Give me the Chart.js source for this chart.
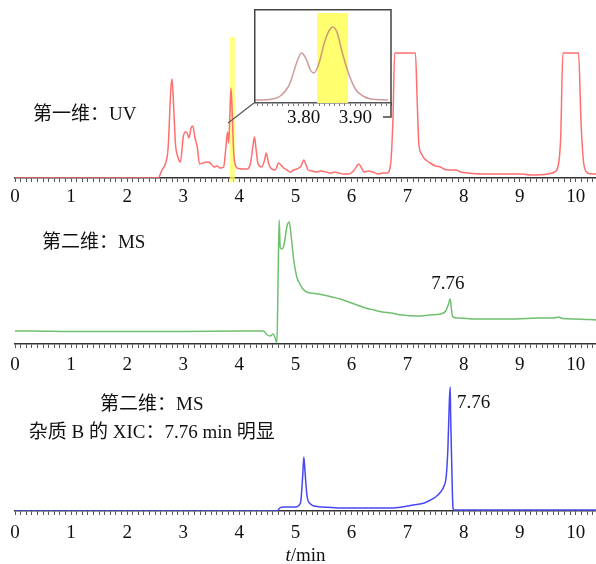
<!DOCTYPE html>
<html>
<head>
<meta charset="utf-8">
<script src="https://cdn.jsdelivr.net/npm/chart.js@4.4.1/dist/chart.umd.min.js"></script>
<style>
  body { margin: 0; background: #fff; }
  #fig { position: relative; width: 596px; height: 564px; overflow: hidden; }
  #fig canvas { position: absolute; left: 0; }
</style>
</head>
<body>
<div id="fig">
  <canvas id="uv" width="596" height="208" style="top:0"></canvas>
  <canvas id="ms" width="596" height="164" style="top:210px"></canvas>
  <canvas id="xic" width="596" height="187" style="top:377px"></canvas>
  <canvas id="zoom" width="138" height="122" style="left:254px;top:9px"></canvas>
</div>
<script>
// first dimension, UV trace (min, signal)
const uvTime = [0, 2.55, 2.62, 2.68, 2.73, 2.78, 2.80, 2.83, 2.86, 2.91, 2.95, 3.00, 3.04, 3.07, 3.10, 3.14, 3.17, 3.21, 3.25, 3.29,
  3.35, 3.42, 3.48, 3.55, 3.60, 3.66, 3.72, 3.76, 3.79, 3.81, 3.83, 3.85, 3.87, 3.90, 3.93, 3.96, 4.05, 4.14, 4.20, 4.25,
  4.27, 4.30, 4.33, 4.40, 4.45, 4.48, 4.52, 4.56, 4.64, 4.70, 4.74, 4.79, 4.85, 4.91, 4.97, 5.03, 5.10, 5.15, 5.19, 5.23,
  5.30, 5.38, 5.45, 5.55, 5.63, 5.70, 5.77, 5.85, 5.95, 6.05, 6.13, 6.18, 6.22, 6.30, 6.38, 6.48, 6.56, 6.64, 6.70, 6.74,
  6.77, 7.14, 7.17, 7.20, 7.25, 7.29, 7.35, 7.40, 7.50, 7.59, 7.65, 7.71, 7.80, 7.86, 7.95, 8.07, 8.30, 8.48, 8.70, 9.02,
  9.20, 9.50, 9.62, 9.68, 9.73, 9.77, 10.05, 10.09, 10.14, 10.21, 10.30, 10.36];
const uvSignal = [0, 0, 8, 14, 30, 90, 99, 70, 35, 20, 16, 41, 46, 45, 40, 50, 52, 40, 31, 14,
  15, 16, 15, 11, 12, 10, 11, 30, 46, 35, 60, 90, 70, 25, 13, 10, 9, 9, 15, 35,
  41, 28, 15, 11, 18, 25, 15, 10, 8, 15, 13, 10, 8, 6, 8, 9, 12, 18, 13, 8,
  7, 6, 7, 6, 5, 6, 5, 4, 4, 8, 14, 10, 6, 7, 6, 4, 5, 5, 15, 60,
  125, 125, 80, 35, 24, 20, 17, 15, 12, 11, 9, 8, 8, 8, 6, 5, 4, 4, 4, 4,
  3, 4, 6, 11, 40, 125, 125, 60, 15, 5, 4, 4];

// enlarged view of the 3.7-3.96 min region
const zoomTime = [3.696, 3.72, 3.74, 3.755, 3.77, 3.776, 3.785, 3.796, 3.805, 3.813, 3.82, 3.83, 3.84, 3.85, 3.857,
  3.865, 3.875, 3.886, 3.90, 3.915, 3.93, 3.963];
const zoomSignal = [3, 3, 4, 7, 16, 23, 38, 50, 44, 33, 30, 40, 60, 73, 76, 70, 50, 31, 14, 7, 4, 3];

// second dimension, MS total ion trace
const msTime = [0, 0.3, 1, 2, 3, 4, 4.43, 4.50, 4.55, 4.60, 4.64, 4.67, 4.69, 4.71, 4.73, 4.76, 4.80, 4.85, 4.89, 4.93,
  4.97, 5.03, 5.08, 5.12, 5.20, 5.27, 5.40, 5.50, 5.65, 5.80, 5.95, 6.10, 6.25, 6.40, 6.55, 6.70, 6.90, 7.18, 7.40, 7.59,
  7.68, 7.73, 7.76, 7.78, 7.80, 7.87, 7.92, 8.20, 8.48, 8.80, 9.10, 9.37, 9.60, 9.70, 9.76, 10.0, 10.36];
const msSignal = [13, 13, 12.5, 12.5, 12.5, 13, 13, 9, 8, 10, 6, 1, 60, 124, 96, 95, 100, 118, 122, 105,
  84, 66, 60, 56, 52, 51, 50, 49, 47, 45, 42, 39, 36, 34, 32, 31, 29, 28, 29, 30,
  33, 40, 45, 36, 28, 26, 26, 25, 25, 25, 25.5, 26, 26, 27, 25.5, 25, 24];

// extracted ion chromatogram of impurity B
const xicTime = [0, 4.68, 4.72, 4.80, 4.90, 5.00, 5.09, 5.13, 5.15, 5.17, 5.21, 5.27, 5.33, 5.50, 5.80, 6.20, 6.70, 6.90,
  7.10, 7.30, 7.41, 7.50, 7.59, 7.65, 7.69, 7.72, 7.745, 7.76, 7.77, 7.79, 7.81, 7.83, 10.36];
const xicSignal = [0, 0, 3, 4, 4, 4, 8, 35, 54, 40, 14, 7, 5, 4, 3, 3, 3, 4,
  6, 8, 11, 14, 19, 25, 35, 64, 110, 124, 90, 40, 3, 1, 1];

const serif = "'Liberation Serif', 'Times New Roman', 'Noto Sans CJK SC', serif";
const textFont = "19px " + serif;

function points(xs, ys) {
  return xs.map((x, i) => ({ x: x, y: ys[i] }));
}

function isWhole(v) {
  return Math.abs(v - Math.round(v)) < 1e-6;
}

// notes plugin: yellow marker bands, connector lines and free text
const notes = {
  id: 'notes',
  beforeDatasetsDraw(chart, args, opts) {
    const { ctx, scales: { x, y } } = chart;
    (opts.bands || []).forEach(b => {
      ctx.save();
      ctx.fillStyle = b.color;
      const l = x.getPixelForValue(b.from), r = x.getPixelForValue(b.to);
      const t = y.getPixelForValue(b.top), btm = y.getPixelForValue(b.bottom);
      ctx.fillRect(l, t, r - l, btm - t);
      ctx.restore();
    });
  },
  afterDatasetsDraw(chart, args, opts) {
    const { ctx, scales: { x, y } } = chart;
    (opts.links || []).forEach(k => {
      ctx.save();
      ctx.strokeStyle = '#555';
      ctx.lineWidth = 1.2;
      ctx.beginPath();
      ctx.moveTo(x.getPixelForValue(k.from[0]), y.getPixelForValue(k.from[1]));
      ctx.lineTo(x.getPixelForValue(k.to[0]), y.getPixelForValue(k.to[1]));
      ctx.stroke();
      ctx.restore();
    });
    (opts.texts || []).forEach(n => {
      ctx.save();
      ctx.font = textFont;
      ctx.fillStyle = '#111';
      ctx.textAlign = n.align || 'left';
      ctx.textBaseline = 'middle';
      ctx.fillText(n.text, x.getPixelForValue(n.at[0]), y.getPixelForValue(n.at[1]));
      ctx.restore();
    });
  }
};

function timeAxis(min, max, step, height, tickLen, pad) {
  return {
    type: 'linear',
    min: min,
    max: max,
    // fixed axis band height; no extra right padding so the axis runs to the edge
    afterFit: s => { s.height = height; s.paddingRight = 0; },
    border: { display: true, color: '#333', width: 1.5 },
    grid: { drawOnChartArea: false, drawTicks: true, tickLength: tickLen, color: '#555', tickWidth: 1 },
    ticks: {
      stepSize: step,
      autoSkip: false,
      maxRotation: 0,
      includeBounds: false,
      padding: pad,
      color: '#111',
      font: { family: serif, size: 19 },
      callback: v => isWhole(v) ? String(Math.round(v)) : ''
    }
  };
}

function trace(id, xs, ys, color, yMax, notesOpts, padLeft, extra) {
  return new Chart(document.getElementById(id), {
    type: 'line',
    data: {
      datasets: [{
        data: points(xs, ys),
        borderColor: color,
        borderWidth: 1.5,
        pointRadius: 0,
        cubicInterpolationMode: 'monotone',
        fill: false
      }]
    },
    options: {
      responsive: false,
      animation: false,
      events: [],
      layout: { padding: { left: padLeft, right: 0, top: 0, bottom: 0 } },
      scales: {
        x: extra.x,
        y: { display: false, min: 0, max: yMax }
      },
      plugins: { legend: { display: false }, tooltip: { enabled: false }, notes: notesOpts }
    },
    plugins: [notes].concat(extra.plugins || [])
  });
}

trace('uv', uvTime, uvSignal, '#ff6f6f', 178, {
  bands: [{ from: 3.83, to: 3.92, top: 141, bottom: -4, color: 'rgba(255,255,90,0.75)' }],
  links: [{ from: [3.80, 55], to: [4.26, 75] }],
  texts: [{ text: '第一维：UV', at: [0.32, 63] }]
}, 15, { x: timeAxis(0, 10.36, 0.1, 30, 4, 4) });

trace('ms', msTime, msSignal, '#6fbf6f', 134, {
  texts: [
    { text: '第二维：MS', at: [0.48, 101] },
    { text: '7.76', at: [7.72, 60], align: 'center' }
  ]
}, 15, { x: timeAxis(0, 10.36, 0.1, 30, 4, 6) });

// axis title with an italic variable name
const axisTitle = {
  id: 'axisTitle',
  afterDraw(chart) {
    const { ctx, chartArea } = chart;
    const cx = (chartArea.left + chartArea.right) / 2;
    const cy = chart.height - 8;
    ctx.save();
    ctx.fillStyle = '#111';
    ctx.textBaseline = 'middle';
    ctx.font = 'italic ' + textFont;
    const wT = ctx.measureText('t').width;
    ctx.font = textFont;
    const wRest = ctx.measureText('/min').width;
    const x0 = cx - (wT + wRest) / 2;
    ctx.font = 'italic ' + textFont;
    ctx.fillText('t', x0, cy);
    ctx.font = textFont;
    ctx.fillText('/min', x0 + wT, cy);
    ctx.restore();
  }
};

trace('xic', xicTime, xicSignal, '#4848f4', 134, {
  texts: [
    { text: '第二维：MS', at: [2.44, 106], align: 'center' },
    { text: '杂质 B 的 XIC：7.76 min 明显', at: [2.44, 78], align: 'center' },
    { text: '7.76', at: [7.88, 108] }
  ]
}, 15, { x: timeAxis(0, 10.36, 0.1, 53, 4, 7), plugins: [axisTitle] });

// frame around the enlarged view
const frame = {
  id: 'frame',
  afterDraw(chart) {
    const { ctx, chartArea } = chart;
    const r = chart.width - 1;
    ctx.save();
    ctx.strokeStyle = '#444';
    ctx.lineWidth = 1.5;
    ctx.beginPath();
    ctx.moveTo(chartArea.left + 0.75, chartArea.bottom);
    ctx.lineTo(chartArea.left + 0.75, chartArea.top + 0.75);
    ctx.lineTo(r, chartArea.top + 0.75);
    ctx.lineTo(r, chartArea.bottom + 14);
    ctx.lineTo(r - 8, chartArea.bottom + 14);
    ctx.stroke();
    ctx.restore();
  }
};

const zoomAxis = timeAxis(3.704, 3.971, 0.01, 28, 3, 1);
zoomAxis.ticks.callback = v => (Math.abs(v - 3.8) < 1e-6 || Math.abs(v - 3.9) < 1e-6) ? v.toFixed(2) : '';
zoomAxis.grid.color = '#777';
zoomAxis.border.color = '#555';

trace('zoom', zoomTime, zoomSignal, 'rgba(190,120,120,0.75)', 94, {
  bands: [{ from: 3.826, to: 3.886, top: 90, bottom: 0, color: '#ffff70' }]
}, 0, { x: zoomAxis, plugins: [frame] });
</script>
</body>
</html>
